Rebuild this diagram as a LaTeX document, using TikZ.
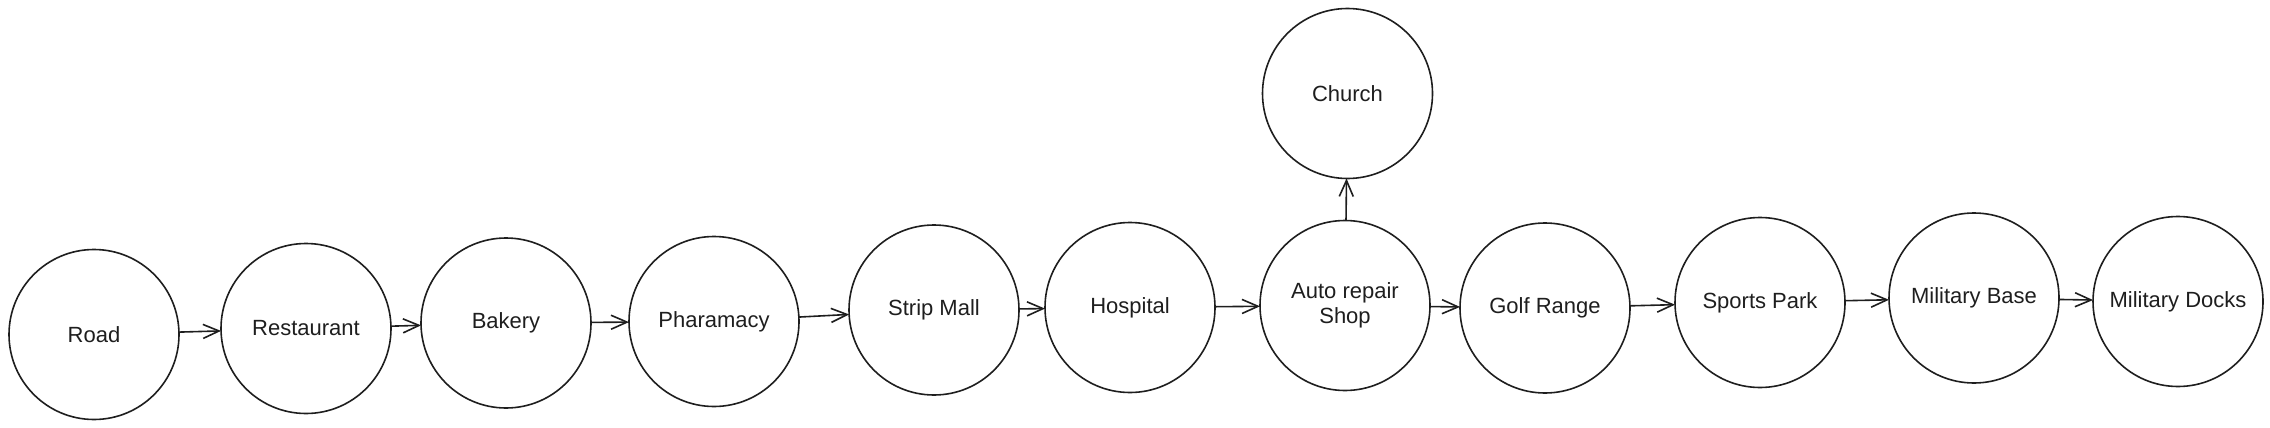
\documentclass[tikz,border=0pt]{standalone}
\usepackage{fontspec}
\setsansfont{Liberation Sans}
\usepackage{xcolor}
\usepackage{tikz}
\usetikzlibrary{arrows.meta, positioning}
\definecolor{SketchInk}{HTML}{1E1E1E}
\tikzset{
  placenode/.style={draw=SketchInk, circle, minimum size=85pt, inner sep=0pt,
                    outer sep=0pt, line width=0.8pt, text=SketchInk, align=center,
                    font=\sffamily\fontsize{11}{12.5}\selectfont},
  arrowstd/.style={-{Straight Barb[length=8pt, width=7pt]}, line width=0.8pt,
                   draw=SketchInk}
}

\begin{document}
\begin{tikzpicture}
  \useasboundingbox (0,0) rectangle (1135pt,-214pt);

  \node[placenode]                                      (road)          at (47pt,-167.25pt) {Road};
  \node[placenode, right=21pt of road, yshift=3pt]          (restaurant)    {Restaurant};
  \node[placenode, right=15pt of restaurant, yshift=2.75pt] (bakery)        {Bakery};
  \node[placenode, right=19pt of bakery, yshift=0.75pt]     (pharmacy)      {Pharamacy};
  \node[placenode, right=25pt of pharmacy, yshift=5.75pt]   (stripmall)     {Strip Mall};
  \node[placenode, right=13pt of stripmall, yshift=1.25pt]  (hospital)      {Hospital};
  \node[placenode, right=22.5pt of hospital, yshift=1pt]    (autorepair)    {Auto repair\\Shop};
  \node[placenode, above=21pt of autorepair, xshift=1.25pt] (church)        {Church};
  \node[placenode, right=15pt of autorepair, yshift=-1.25pt] (golfrange)    {Golf Range};
  \node[placenode, right=22.5pt of golfrange, yshift=2.75pt] (sportspark)   {Sports Park};
  \node[placenode, right=22pt of sportspark, yshift=2.25pt] (militarybase)  {Military Base};
  \node[placenode, right=17pt of militarybase, yshift=-1.75pt] (militarydocks) {Military Docks};

  \draw[arrowstd] (road)         -- (restaurant);
  \draw[arrowstd] (restaurant)   -- (bakery);
  \draw[arrowstd] (bakery)       -- (pharmacy);
  \draw[arrowstd] (pharmacy)     -- (stripmall);
  \draw[arrowstd] (stripmall)    -- (hospital);
  \draw[arrowstd] (hospital)     -- (autorepair);
  \draw[arrowstd] (autorepair)   -- (church);
  \draw[arrowstd] (autorepair)   -- (golfrange);
  \draw[arrowstd] (golfrange)    -- (sportspark);
  \draw[arrowstd] (sportspark)   -- (militarybase);
  \draw[arrowstd] (militarybase) -- (militarydocks);
\end{tikzpicture}
\end{document}
